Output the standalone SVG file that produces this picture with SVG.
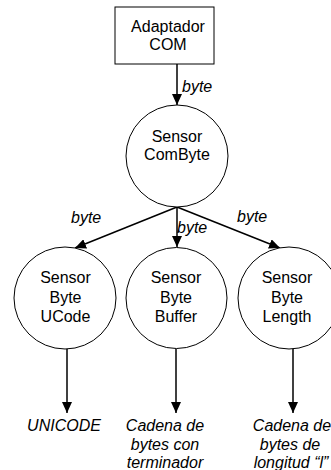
<svg xmlns="http://www.w3.org/2000/svg" width="331" height="470" viewBox="0 0 331 470">
  <style>
    .shape { fill: #ffffff; stroke: #000000; stroke-width: 1; }
    .txt { font-family: "Liberation Sans", Arial, sans-serif; font-size: 16px; fill: #000000; text-anchor: middle; }
    .lbl { font-family: "Liberation Sans", Arial, sans-serif; font-size: 16px; font-style: italic; fill: #000000; }
    .mid { text-anchor: middle; }
    .link { fill: none; stroke: #000000; stroke-width: 1.5; marker-end: url(#head); }
  </style>
  <defs>
    <marker id="head" markerUnits="userSpaceOnUse" markerWidth="11" markerHeight="10" refX="11" refY="5" orient="auto">
      <path d="M0,0 L11,5 L0,10 Z" fill="#000000"/>
    </marker>
  </defs>
  <rect width="331" height="470" fill="#ffffff"/>

  <g id="connectors">
    <line class="link" x1="177" y1="64" x2="177" y2="105"/>
    <line class="link" x1="177" y1="207" x2="75" y2="248"/>
    <line class="link" x1="177" y1="207" x2="177" y2="247"/>
    <line class="link" x1="177" y1="207" x2="280" y2="248"/>
    <line class="link" x1="67" y1="349" x2="67" y2="413"/>
    <line class="link" x1="176" y1="349" x2="176" y2="413"/>
    <line class="link" x1="293" y1="349" x2="293" y2="413"/>
    <text class="lbl" x="182" y="92">byte</text>
    <text class="lbl" x="71" y="223">byte</text>
    <text class="lbl" x="177" y="233">byte</text>
    <text class="lbl" x="237" y="222">byte</text>
  </g>

  <g id="adaptador-com">
    <rect class="shape" x="115" y="7" width="99" height="57"/>
    <text class="txt" x="168" y="32">Adaptador</text>
    <text class="txt" x="168" y="50">COM</text>
  </g>

  <g id="sensor-combyte">
    <circle class="shape" cx="177" cy="156" r="51"/>
    <text class="txt" x="177" y="142">Sensor</text>
    <text class="txt" x="177" y="160">ComByte</text>
  </g>

  <g id="sensor-byte-ucode">
    <circle class="shape" cx="65" cy="298" r="51"/>
    <text class="txt" x="65.5" y="283">Sensor</text>
    <text class="txt" x="65.5" y="303">Byte</text>
    <text class="txt" x="65.5" y="322">UCode</text>
  </g>

  <g id="sensor-byte-buffer">
    <circle class="shape" cx="176.5" cy="298" r="50.5"/>
    <text class="txt" x="176" y="283">Sensor</text>
    <text class="txt" x="176" y="303">Byte</text>
    <text class="txt" x="176" y="322">Buffer</text>
  </g>

  <g id="sensor-byte-length">
    <circle class="shape" cx="289" cy="298" r="51"/>
    <text class="txt" x="287" y="283">Sensor</text>
    <text class="txt" x="287" y="303">Byte</text>
    <text class="txt" x="287" y="322">Length</text>
  </g>

  <g id="out-unicode">
    <text class="lbl mid" x="64" y="431">UNICODE</text>
  </g>

  <g id="out-terminador">
    <text class="lbl mid" x="165" y="431">Cadena de</text>
    <text class="lbl mid" x="165" y="450">bytes con</text>
    <text class="lbl mid" x="165" y="468">terminador</text>
  </g>

  <g id="out-longitud">
    <text class="lbl mid" x="292" y="431">Cadena de</text>
    <text class="lbl mid" x="290" y="450">bytes de</text>
    <text class="lbl mid" x="291" y="468">longitud “l”</text>
  </g>
</svg>
